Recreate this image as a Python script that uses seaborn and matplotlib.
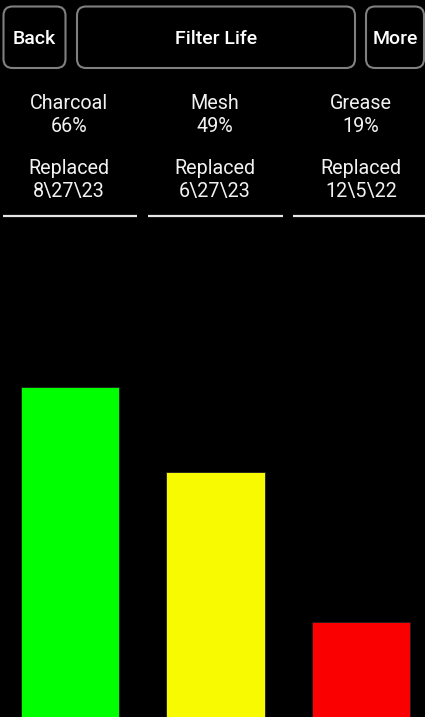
"""Filter life screen: three filter bars with header buttons."""
import matplotlib.pyplot as plt
import pandas as pd
import seaborn as sns
from matplotlib.patches import FancyBboxPatch

W, H = 425, 717

FILTERS = ["Charcoal", "Mesh", "Grease"]
LIFE_PCT = [66, 49, 19]
REPLACED = ["8\\27\\23", "6\\27\\23", "12\\5\\22"]
BAR_COLORS = ["#00ff00", "#f7fa00", "#fa0000"]
BUTTONS = ["Back", "Filter Life", "More"]


def main():
    sns.set_theme(style="dark")
    plt.rcParams["font.family"] = ["Roboto", "DejaVu Sans"]

    fig = plt.figure(figsize=(W / 100, H / 100), dpi=100, facecolor="black")

    # bar area: bottom 500 px of the screen, 0-100 %
    ax = fig.add_axes([0, 0, 1, 500 / H])
    df = pd.DataFrame({"filter": FILTERS, "life": LIFE_PCT})
    sns.barplot(
        data=df, x="filter", y="life", hue="filter", palette=BAR_COLORS,
        saturation=1, width=0.677, edgecolor="#1c1c1c", linewidth=0.6,
        legend=False, ax=ax,
    )
    ax.set_facecolor("black")
    ax.set_ylim(0, 100)
    ax.set_xlim(-0.481, 2.44)
    ax.set_xticks([])
    ax.set_yticks([])
    ax.set_xlabel("")
    ax.set_ylabel("")
    for s in ax.spines.values():
        s.set_visible(False)

    # overlay in pixel coords for header widgets
    ov = fig.add_axes([0, 0, 1, 1], facecolor="none")
    ov.set_xlim(0, W)
    ov.set_ylim(H, 0)
    ov.axis("off")

    boxes = [(3.5, 6.5, 62, 61.5), (77, 6.5, 278, 61.5), (366, 6.5, 58, 61.5)]
    for (x0, y0, w, h), label in zip(boxes, BUTTONS):
        ov.add_patch(FancyBboxPatch(
            (x0 + 9, y0 + 9), w - 18, h - 18,
            boxstyle="round,pad=9", facecolor="black",
            edgecolor="#808080", linewidth=1.5,
        ))
        ov.text(x0 + w / 2, 44, label, color="white", fontsize=14,
                fontweight="medium", ha="center", va="baseline")

    centers = [69, 215, 361]
    for cx, name, pct, rep in zip(centers, FILTERS, LIFE_PCT, REPLACED):
        kw = dict(color="#f2f2f2", fontsize=14.2, ha="center", va="baseline")
        ov.text(cx, 109, name, **kw)
        ov.text(cx, 131.5, f"{pct}%", **kw)
        ov.text(cx, 174.5, "Replaced", **kw)
        ov.text(cx, 197, rep, **kw)

    for x0, x1 in [(3, 137), (148, 283), (293, 425)]:
        ov.plot([x0, x1], [216, 216], color="#e6e6e6", linewidth=1.6,
                solid_capstyle="butt")

    fig.savefig("out.png", dpi=100, facecolor="black")


if __name__ == "__main__":
    main()
